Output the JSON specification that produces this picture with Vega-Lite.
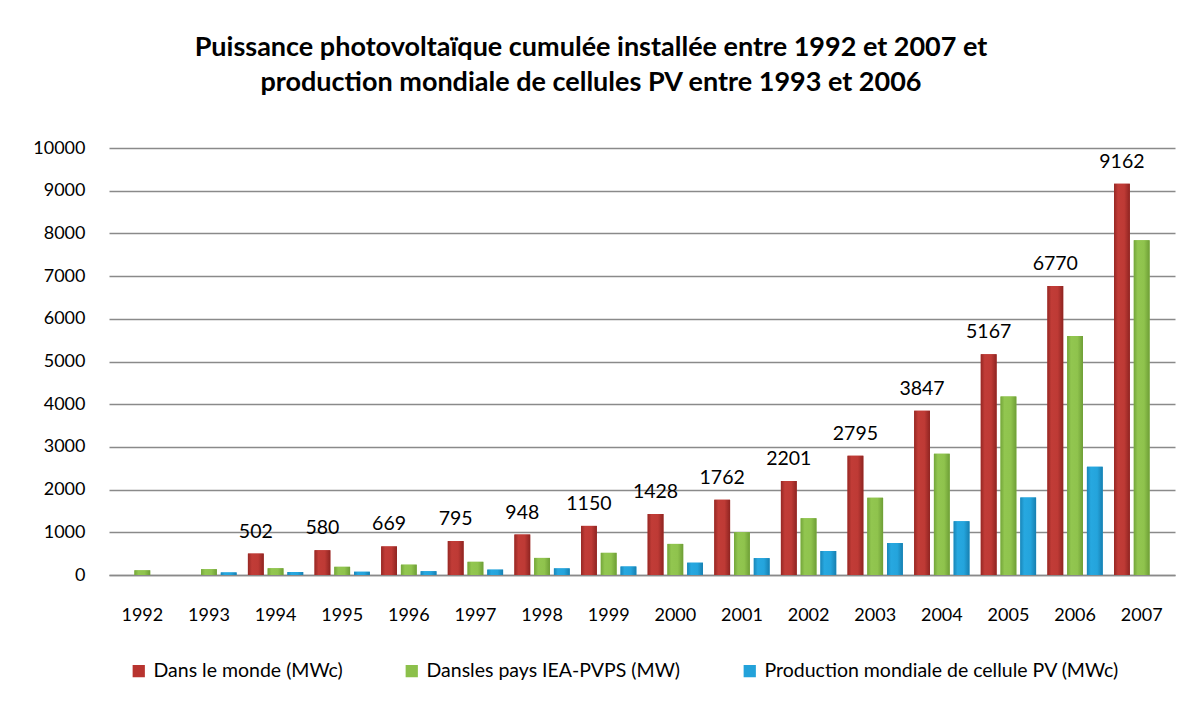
{
  "$schema": "https://vega.github.io/schema/vega-lite/v6.json",
  "width": 1066,
  "height": 427,
  "autosize": {"type": "none"},
  "padding": {"left": 109, "top": 148, "right": 7, "bottom": 129},
  "background": "white",
  "config": {
    "font": "Lato",
    "view": {"stroke": null},
    "axis": {"labelFont": "Lato", "labelColor": "#000000", "labelFontSize": 18}
  },
  "title": {
    "text": ["Puissance photovoltaïque cumulée installée entre 1992 et 2007 et", "production mondiale de cellules PV entre 1993 et 2006"],
    "font": "Lato",
    "fontSize": 27,
    "fontWeight": "bold",
    "color": "#000000",
    "anchor": "middle",
    "dx": -51,
    "offset": 42,
    "lineHeight": 35
  },
  "datasets": {
    "pv": [
      {"year": "1992", "series": "Dansles pays IEA-PVPS (MW)", "value": 110},
      {"year": "1993", "series": "Dansles pays IEA-PVPS (MW)", "value": 136},
      {"year": "1993", "series": "Production mondiale de cellule PV (MWc)", "value": 60},
      {"year": "1994", "series": "Dans le monde (MWc)", "value": 502},
      {"year": "1994", "series": "Dansles pays IEA-PVPS (MW)", "value": 158},
      {"year": "1994", "series": "Production mondiale de cellule PV (MWc)", "value": 69},
      {"year": "1995", "series": "Dans le monde (MWc)", "value": 580},
      {"year": "1995", "series": "Dansles pays IEA-PVPS (MW)", "value": 192},
      {"year": "1995", "series": "Production mondiale de cellule PV (MWc)", "value": 78},
      {"year": "1996", "series": "Dans le monde (MWc)", "value": 669},
      {"year": "1996", "series": "Dansles pays IEA-PVPS (MW)", "value": 242},
      {"year": "1996", "series": "Production mondiale de cellule PV (MWc)", "value": 89},
      {"year": "1997", "series": "Dans le monde (MWc)", "value": 795},
      {"year": "1997", "series": "Dansles pays IEA-PVPS (MW)", "value": 309},
      {"year": "1997", "series": "Production mondiale de cellule PV (MWc)", "value": 126},
      {"year": "1998", "series": "Dans le monde (MWc)", "value": 948},
      {"year": "1998", "series": "Dansles pays IEA-PVPS (MW)", "value": 400},
      {"year": "1998", "series": "Production mondiale de cellule PV (MWc)", "value": 155},
      {"year": "1999", "series": "Dans le monde (MWc)", "value": 1150},
      {"year": "1999", "series": "Dansles pays IEA-PVPS (MW)", "value": 519},
      {"year": "1999", "series": "Production mondiale de cellule PV (MWc)", "value": 201},
      {"year": "2000", "series": "Dans le monde (MWc)", "value": 1428},
      {"year": "2000", "series": "Dansles pays IEA-PVPS (MW)", "value": 728},
      {"year": "2000", "series": "Production mondiale de cellule PV (MWc)", "value": 288},
      {"year": "2001", "series": "Dans le monde (MWc)", "value": 1762},
      {"year": "2001", "series": "Dansles pays IEA-PVPS (MW)", "value": 1001},
      {"year": "2001", "series": "Production mondiale de cellule PV (MWc)", "value": 395},
      {"year": "2002", "series": "Dans le monde (MWc)", "value": 2201},
      {"year": "2002", "series": "Dansles pays IEA-PVPS (MW)", "value": 1327},
      {"year": "2002", "series": "Production mondiale de cellule PV (MWc)", "value": 562},
      {"year": "2003", "series": "Dans le monde (MWc)", "value": 2795},
      {"year": "2003", "series": "Dansles pays IEA-PVPS (MW)", "value": 1809},
      {"year": "2003", "series": "Production mondiale de cellule PV (MWc)", "value": 748},
      {"year": "2004", "series": "Dans le monde (MWc)", "value": 3847},
      {"year": "2004", "series": "Dansles pays IEA-PVPS (MW)", "value": 2839},
      {"year": "2004", "series": "Production mondiale de cellule PV (MWc)", "value": 1256},
      {"year": "2005", "series": "Dans le monde (MWc)", "value": 5167},
      {"year": "2005", "series": "Dansles pays IEA-PVPS (MW)", "value": 4181},
      {"year": "2005", "series": "Production mondiale de cellule PV (MWc)", "value": 1815},
      {"year": "2006", "series": "Dans le monde (MWc)", "value": 6770},
      {"year": "2006", "series": "Dansles pays IEA-PVPS (MW)", "value": 5600},
      {"year": "2006", "series": "Production mondiale de cellule PV (MWc)", "value": 2536},
      {"year": "2007", "series": "Dans le monde (MWc)", "value": 9162},
      {"year": "2007", "series": "Dansles pays IEA-PVPS (MW)", "value": 7841}
    ]
  },
  "data": {"name": "pv"},
  "encoding": {
    "x": {
      "field": "year",
      "type": "nominal",
      "scale": {"paddingInner": 0.17, "paddingOuter": 0.085},
      "axis": {
        "title": null,
        "labelAngle": 0,
        "ticks": false,
        "domain": true,
        "domainColor": "#8a8a8a",
        "domainWidth": 1.5,
        "labelPadding": 31,
        "grid": false
      }
    },
    "xOffset": {
      "field": "series",
      "type": "nominal",
      "scale": {
        "domain": ["Dans le monde (MWc)", "Dansles pays IEA-PVPS (MW)", "Production mondiale de cellule PV (MWc)"],
        "paddingInner": 0.2,
        "paddingOuter": 0
      }
    },
    "y": {
      "field": "value",
      "type": "quantitative",
      "scale": {"domain": [0, 10000], "nice": false},
      "axis": {
        "title": null,
        "values": [0, 1000, 2000, 3000, 4000, 5000, 6000, 7000, 8000, 9000, 10000],
        "format": "d",
        "ticks": false,
        "domain": false,
        "grid": true,
        "gridColor": "#8a8a8a",
        "gridWidth": 1.5,
        "labelPadding": 24
      }
    }
  },
  "layer": [
    {
      "mark": {"type": "bar"},
      "encoding": {
        "color": {
          "field": "series",
          "type": "nominal",
          "scale": {
            "domain": ["Dans le monde (MWc)", "Dansles pays IEA-PVPS (MW)", "Production mondiale de cellule PV (MWc)"],
            "range": ["#B8342F", "#8CC04B", "#23A2DA"]
          },
          "legend": {
            "title": null,
            "orient": "none",
            "direction": "horizontal",
            "legendX": 20,
            "legendY": 513,
            "padding": 0,
            "symbolType": "square",
            "symbolSize": 150,
            "symbolStrokeWidth": 0,
            "labelFont": "Lato",
            "labelFontSize": 19.5,
            "labelColor": "#000000",
            "labelOffset": 5,
            "columnPadding": 59,
            "labelLimit": 500
          }
        }
      }
    },
    {
      "transform": [{"filter": "datum.series === 'Dans le monde (MWc)'"}],
      "mark": {
        "type": "bar",
        "color": {"gradient": "linear", "x1": 0, "x2": 1, "y1": 0, "y2": 0,
          "stops": [{"offset": 0, "color": "#962824"}, {"offset": 0.25, "color": "#C13C37"}, {"offset": 0.65, "color": "#BE3A35"}, {"offset": 1, "color": "#8E2421"}]}
      }
    },
    {
      "transform": [{"filter": "datum.series === 'Dansles pays IEA-PVPS (MW)'"}],
      "mark": {
        "type": "bar",
        "color": {"gradient": "linear", "x1": 0, "x2": 1, "y1": 0, "y2": 0,
          "stops": [{"offset": 0, "color": "#74A63A"}, {"offset": 0.25, "color": "#92C650"}, {"offset": 0.65, "color": "#8FC34D"}, {"offset": 1, "color": "#6E9E36"}]}
      }
    },
    {
      "transform": [{"filter": "datum.series === 'Production mondiale de cellule PV (MWc)'"}],
      "mark": {
        "type": "bar",
        "color": {"gradient": "linear", "x1": 0, "x2": 1, "y1": 0, "y2": 0,
          "stops": [{"offset": 0, "color": "#1A86B8"}, {"offset": 0.25, "color": "#27A8E0"}, {"offset": 0.65, "color": "#24A4DC"}, {"offset": 1, "color": "#177FB0"}]}
      }
    },
    {
      "transform": [{"filter": "datum.series === 'Dans le monde (MWc)'"}],
      "mark": {"type": "text", "baseline": "alphabetic", "dy": -16, "fontSize": 19.5, "font": "Lato", "color": "#000000"},
      "encoding": {
        "text": {"field": "value", "type": "quantitative", "format": "d"}
      }
    }
  ]
}
